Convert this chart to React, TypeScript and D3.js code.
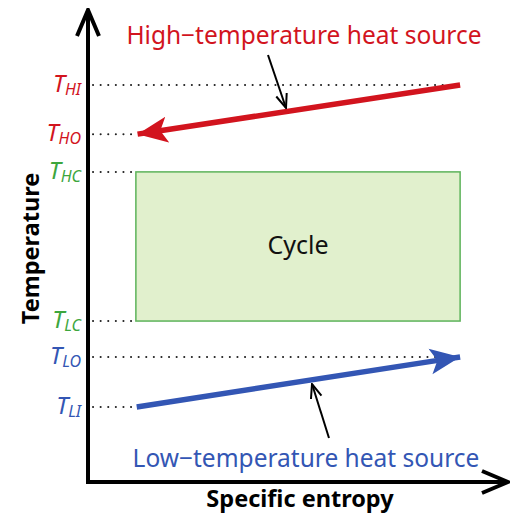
import React from 'react';
import * as d3 from 'd3';

// temperature levels (arbitrary units, 0..100 on the T axis)
const levelNames = ['HI', 'HO', 'HC', 'LC', 'LO', 'LI'];
const levelValues = [84.1, 73.7, 65.7, 34.1, 26.5, 15.9];
const levelColors = ['#d2141e', '#d2141e', '#3da63d', '#3da63d', '#3356b4', '#3356b4'];
// entropy positions where each level's dotted guide ends
const levelEnds = [88.6, 11.6, 11.4, 11.4, 88.6, 11.4];

// heat sources: [s start, T start] -> [s end, T end]
const highSource = { s: [88.6, 11.8], T: [84.1, 73.7] };
const lowSource = { s: [11.6, 88.6], T: [15.9, 26.5] };
const cycleS = [11.4, 88.6];
const cycleT = [34.1, 65.7];

const W = 510;
const H = 515;
const font = '"Noto Sans", "DejaVu Sans", sans-serif';

// pull the end of a segment back so a marker can sit on the tip
function shorten(p0: [number, number], p1: [number, number], d: number): string {
  const dx = p1[0] - p0[0];
  const dy = p1[1] - p0[1];
  const len = Math.hypot(dx, dy);
  const ex = p1[0] - (dx / len) * d;
  const ey = p1[1] - (dy / len) * d;
  return `M${p0[0]},${p0[1]} L${ex},${ey} L${p1[0]},${p1[1]}`;
}

export default function App() {
  const x = d3.scaleLinear().domain([0, 100]).range([88, 508]);
  const y = d3.scaleLinear().domain([0, 100]).range([482, 10]);

  const hi0: [number, number] = [x(highSource.s[0]), y(highSource.T[0])];
  const hi1: [number, number] = [x(highSource.s[1]), y(highSource.T[1])];
  const lo0: [number, number] = [x(lowSource.s[0]), y(lowSource.T[0])];
  const lo1: [number, number] = [x(lowSource.s[1]), y(lowSource.T[1])];

  return (
    <svg width={W} height={H} style={{ position: 'absolute', left: 0, top: 0, background: '#fff' }}>
      <defs>
        <marker id="redHead" viewBox="0 -14 30 28" refX="30" refY="0" markerWidth="30" markerHeight="28"
          markerUnits="userSpaceOnUse" orient="auto">
          <path d="M0,-13 L30,0 L0,13 L7,0 Z" fill="#d2141e" />
        </marker>
        <marker id="blueHead" viewBox="0 -14 30 28" refX="30" refY="0" markerWidth="30" markerHeight="28"
          markerUnits="userSpaceOnUse" orient="auto">
          <path d="M0,-13 L30,0 L0,13 L7,0 Z" fill="#3356b4" />
        </marker>
        <marker id="openHead" viewBox="-1 -7 16 14" refX="14" refY="0" markerWidth="16" markerHeight="14"
          markerUnits="userSpaceOnUse" orient="auto">
          <path d="M0,-5.5 L14,0 L0,5.5" fill="none" stroke="#000" strokeWidth="2" />
        </marker>
        <marker id="axisHead" viewBox="-2 -14 30 28" refX="26" refY="0" markerWidth="30" markerHeight="28"
          markerUnits="userSpaceOnUse" orient="auto">
          <path d="M0,-11 L26,0 L0,11" fill="none" stroke="#000" strokeWidth="4" strokeLinejoin="miter" />
        </marker>
      </defs>

      {/* cycle box */}
      <rect x={x(cycleS[0])} y={y(cycleT[1])} width={x(cycleS[1]) - x(cycleS[0])}
        height={y(cycleT[0]) - y(cycleT[1])} fill="#e1f0cd" stroke="#5db35a" strokeWidth={1.5} />
      <text x={(x(cycleS[0]) + x(cycleS[1])) / 2} y={y((cycleT[0] + cycleT[1]) / 2) + 8}
        textAnchor="middle" fontFamily={font} fontSize={25} fill="#111">Cycle</text>

      {/* dotted guides */}
      {levelNames.map((n, i) => (
        <line key={n} x1={x(0) + 5} x2={x(levelEnds[i])} y1={y(levelValues[i])} y2={y(levelValues[i])}
          stroke="#222" strokeWidth={2} strokeDasharray="0.1 7.5" strokeLinecap="round" />
      ))}

      {/* heat sources */}
      <path d={shorten(hi0, hi1, 16)} stroke="#d2141e" strokeWidth={5.5} fill="none" markerEnd="url(#redHead)" />
      <path d={shorten(lo0, lo1, 16)} stroke="#3356b4" strokeWidth={5.5} fill="none" markerEnd="url(#blueHead)" />

      {/* pointers */}
      <line x1={268} y1={55} x2={286} y2={108} stroke="#000" strokeWidth={2} markerEnd="url(#openHead)" />
      <line x1={329} y1={438} x2={312} y2={384} stroke="#000" strokeWidth={2} markerEnd="url(#openHead)" />

      <text x={304} y={44} textAnchor="middle" fontFamily={font} fontSize={24.5} fill="#d2141e">
        High−temperature heat source
      </text>
      <text x={306} y={467} textAnchor="middle" fontFamily={font} fontSize={24.5} fill="#3356b4">
        Low−temperature heat source
      </text>

      {/* axes */}
      <path d={`M${x(0)},${y(0) + 2} L${x(0)},${y(100)}`} stroke="#000" strokeWidth={4} fill="none" markerEnd="url(#axisHead)" />
      <path d={`M${x(0) - 2},${y(0)} L${x(100)},${y(0)}`} stroke="#000" strokeWidth={4} fill="none" markerEnd="url(#axisHead)" />

      {/* level labels */}
      {levelNames.map((n, i) => (
        <text key={n} x={81} y={y(levelValues[i]) + 7} textAnchor="end" fontFamily={font}
          fontStyle="italic" fill={levelColors[i]} fontSize={24}>
          T<tspan fontSize={16} dy={3}>{n}</tspan>
        </text>
      ))}

      <text transform={`translate(39,${(y(cycleT[0]) + y(cycleT[1])) / 2 + 2}) rotate(-90)`} textAnchor="middle"
        fontFamily={font} fontWeight="bold" fontSize={23.5} fill="#000">Temperature</text>
      <text x={300} y={507} textAnchor="middle" fontFamily={font} fontWeight="bold" fontSize={23.5} fill="#000">
        Specific entropy
      </text>
    </svg>
  );
}
